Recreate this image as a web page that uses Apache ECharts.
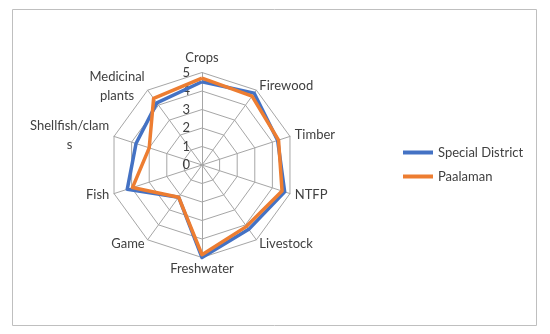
<!DOCTYPE html>
<html>
<head>
<meta charset="utf-8">
<script src="https://cdn.jsdelivr.net/npm/echarts@6/dist/echarts.min.js"></script>
<style>
html,body{margin:0;padding:0;background:#fff;}
#c{width:550px;height:334px;}
</style>
</head>
<body>
<div id="c"></div>
<script>
// Categories in clockwise order starting at the top
const indicators = ['Crops','Firewood','Timber','NTFP','Livestock','Freshwater','Game','Fish','Shellfish/clams','Medicinal plants'];
const specialDistrict = [4.5, 4.8, 4.3, 4.7, 4.3, 5.0, 2.15, 4.25, 3.75, 4.15];
const paalaman = [4.7, 4.6, 4.35, 4.55, 4.1, 4.85, 2.15, 3.95, 3.0, 4.45];
const seriesNames = ['Special District', 'Paalaman'];
const maxValue = 5;
const FONT = 'Lato';

// ECharts lays indicators counter-clockwise; reorder so they read clockwise
const order = [0].concat(indicators.map((_, i) => i).slice(1).reverse());
const reorder = arr => order.map(i => arr[i]);

const chart = echarts.init(document.getElementById('c'), null, {renderer: 'canvas'});
const option = {
  animation: false,
  backgroundColor: '#ffffff',
  graphic: [{
    type: 'rect', left: 10, top: 7, shape: {width: 524, height: 316},
    style: {fill: 'none', stroke: '#bfbfbf', lineWidth: 1}, silent: true
  }],
  legend: {
    orient: 'vertical', left: 398, top: 141, itemGap: 11,
    itemWidth: 30, itemHeight: 4, icon: 'rect',
    textStyle: {fontFamily: FONT, fontSize: 13, color: '#404040'},
    data: seriesNames
  },
  radar: {
    center: [202, 165], radius: 92.5, shape: 'polygon', splitNumber: 5,
    startAngle: 90,
    axisName: {
      fontFamily: FONT, fontSize: 13, color: '#404040',
      formatter: function (name) {
        if (name === 'Shellfish/clams') return '{c|Shellfish/clam}\n{c|s}';
        if (name === 'Medicinal plants') return '{c|Medicinal}\n{c|plants}';
        if (name === 'Crops') return '{t|Crops}';
        return name;
      },
      rich: {
        c: {align: 'center', fontFamily: FONT, fontSize: 13, color: '#404040', lineHeight: 19},
        t: {fontFamily: FONT, fontSize: 13, color: '#404040', padding: [0, 0, 3, 0]}
      }
    },
    nameGap: 5,
    indicator: reorder(indicators).map((n, i) => i === 0 ? {
      name: n, min: 0, max: maxValue,
      axisLabel: {show: true, fontFamily: FONT, fontSize: 13, color: '#404040', margin: 12, showMaxLabel: true, showMinLabel: true}
    } : {name: n, min: 0, max: maxValue}),
    axisLine: {lineStyle: {color: '#a6a6a6', width: 1}},
    splitLine: {lineStyle: {color: '#a6a6a6', width: 1}},
    splitArea: {show: false},
    axisTick: {show: false}
  },
  series: [
    {
      type: 'radar', name: seriesNames[0], symbol: 'none',
      itemStyle: {color: '#4472C4'},
      lineStyle: {color: '#4472C4', width: 3.5},
      data: [{value: reorder(specialDistrict), name: seriesNames[0]}]
    },
    {
      type: 'radar', name: seriesNames[1], symbol: 'none',
      itemStyle: {color: '#ED7D31'},
      lineStyle: {color: '#ED7D31', width: 3.5},
      data: [{value: reorder(paalaman), name: seriesNames[1]}]
    }
  ]
};
chart.setOption(option);
</script>
</body>
</html>
